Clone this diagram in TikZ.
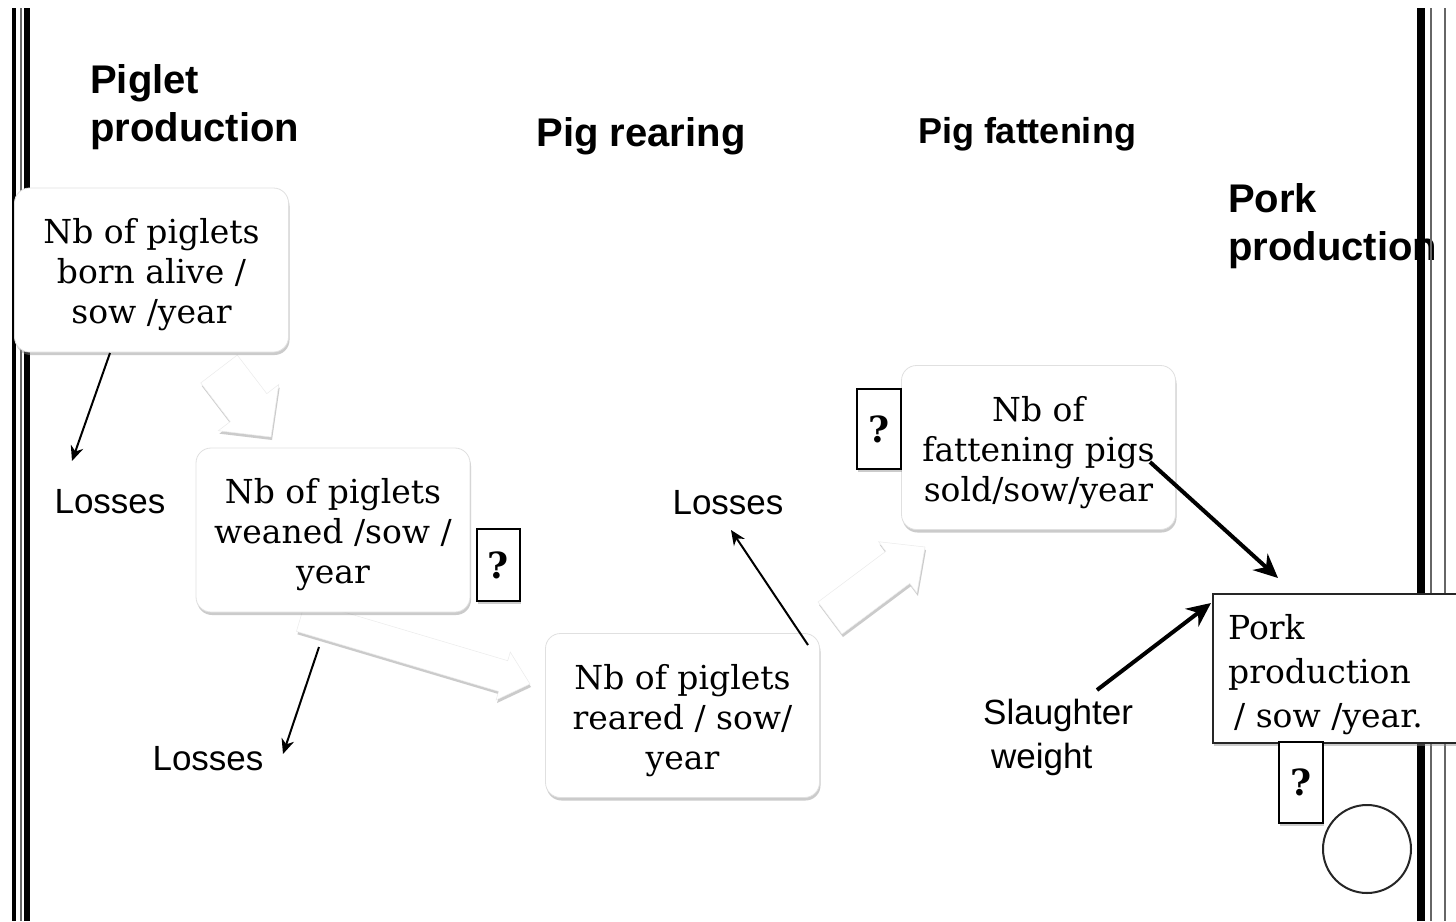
\documentclass[tikz,border=0pt]{standalone}
\usepackage{fontspec}
\setmainfont{DejaVu Serif}
\setsansfont{Liberation Sans}
\usetikzlibrary{arrows.meta,calc,shadows}
\tikzset{
  softshadow/.style={drop shadow={shadow xshift=1pt, shadow yshift=-3pt, fill=black!45, opacity=0.45}},
  rbox/.style={draw=black!12, line width=0.8pt, fill=white, rounded corners=15pt,
    minimum width=274pt, minimum height=164pt, inner sep=0pt, align=center,
    font=\fontsize{33}{40}\selectfont, softshadow},
  sqbox/.style={draw=black!85, line width=2pt, fill=white, inner sep=0pt,
    font=\fontsize{33}{44}\selectfont, softshadow},
  qbox/.style={draw=black, line width=2pt, fill=white, inner sep=0pt,
    font=\bfseries\fontsize{36}{36}\selectfont, softshadow},
  headtext/.style={font=\sffamily\bfseries\fontsize{40}{48}\selectfont, inner sep=0pt, align=left},
  lbl/.style={font=\sffamily\fontsize{35}{44}\selectfont, inner sep=0pt, align=left},
  lossarrow/.style={line width=2pt, -{Stealth[length=15pt,width=13pt]}},
  flowarrow/.style={line width=4pt, -{Stealth[length=24pt,width=22pt]}},
  barrow/.style={fill=white, draw=black!8, line width=0.5pt, softshadow},
  borderline/.style={line cap=butt},
}
\newcommand{\blockarr}[5]{%
  \coordinate (#1n) at ($(#2)!#5!(#1)$);
  \path[barrow] ($(#1)!#3!90:(#2)$) -- ($(#1n)!#3!90:(#2)$) -- ($(#1n)!#4!90:(#2)$)
    -- (#2) -- ($(#1n)!#4!-90:(#2)$) -- ($(#1n)!#3!-90:(#2)$) -- ($(#1)!#3!-90:(#2)$) -- cycle;
}
\newcommand{\tstrut}{\rule{0pt}{35pt}}
\begin{document}
\begin{tikzpicture}[x=1pt,y=-1pt]
\useasboundingbox (0,0) rectangle (1456,921);
\fill[white] (0,0) rectangle (1456,921);

% headings
\node[headtext, anchor=west] (hpig) at (90,107) {Piglet\\production};
\node[headtext] (hrear) at (641,136) {Pig rearing};
\node[headtext, font=\sffamily\bfseries\fontsize{36}{44}\selectfont] (hfat) at (1027,134) {Pig fattening};
\node[headtext, anchor=west] (hpork) at (1228,226) {Pork\\production};

% border lines
\draw[borderline, line width=3.5pt, black] (14,8) -- (14,921);
\draw[borderline, line width=2pt, black!60] (21,8) -- (21,921);
\draw[borderline, line width=6pt, black] (27,8) -- (27,921);
\draw[borderline, line width=8pt, black] (1421,8) -- (1421,921);
\draw[borderline, line width=2pt, black!60] (1431,8) -- (1431,921);
\draw[borderline, line width=2pt, black!60] (1445,8) -- (1445,921);

% block arrows
\coordinate (a1s) at (219,369);
\coordinate (a1e) at (271,437);
\blockarr{a1s}{a1e}{23pt}{38pt}{37pt}
\coordinate (a2s) at (301,616);
\coordinate (a2e) at (530,684);
\blockarr{a2s}{a2e}{16pt}{25pt}{28pt}
\coordinate (a3s) at (830,618);
\coordinate (a3e) at (925,547);
\blockarr{a3s}{a3e}{20pt}{32pt}{34pt}

% boxes
\node[rbox] (b1) at (151.5,270) {\tstrut Nb of piglets\\born alive /\\sow /year};
\node[rbox] (b2) at (333,530) {\tstrut Nb of piglets\\weaned /sow /\\year};
\node[rbox] (b3) at (682.5,715.5) {\tstrut Nb of piglets\\reared / sow/\\year};
\node[rbox] (b4) at (1038.5,447.5) {\tstrut Nb of\\fattening pigs\\sold/sow/year};
\node[sqbox, minimum width=260pt, minimum height=149pt, anchor=north west] (pork) at (1212,593) {};
\node[font=\fontsize{33}{44}\selectfont, align=left, anchor=west, inner sep=0pt] (porkt) at (1228,675) {Pork\\production\\\hspace{6pt}/ sow /year.};

% question boxes
\node[qbox, minimum width=44pt, minimum height=80pt] (q1) at (879,429) {?};
\node[qbox, minimum width=43pt, minimum height=72pt] (q2) at (498.5,565) {?};
\node[qbox, minimum width=44pt, minimum height=81pt] (q3) at (1301,782.5) {?};

% circle
\draw[line width=2pt, black!85] (1367,849) circle[radius=44];

% labels
\node[lbl] (los1) at (110,502) {Losses};
\node[lbl] (los2) at (208,759) {Losses};
\node[lbl] (los3) at (728,503) {Losses};
\node[lbl, anchor=west] (slw) at (983,737) {Slaughter\\\hspace{8pt}weight};

% loss arrows
\coordinate (l1s) at (110,353);
\coordinate (l1e) at (72,461);
\draw[lossarrow] (l1s) -- (l1e);
\coordinate (l2s) at (319,647);
\coordinate (l2e) at (283,754);
\draw[lossarrow] (l2s) -- (l2e);
\coordinate (l3s) at (808,645);
\coordinate (l3e) at (731,530);
\draw[lossarrow] (l3s) -- (l3e);

% flow arrows
\coordinate (f1s) at (1150,462);
\coordinate (f1e) at (1278,578);
\draw[flowarrow] (f1s) -- (f1e);
\coordinate (f2s) at (1097,690);
\coordinate (f2e) at (1211,603);
\draw[flowarrow] (f2s) -- (f2e);
\end{tikzpicture}
\end{document}
